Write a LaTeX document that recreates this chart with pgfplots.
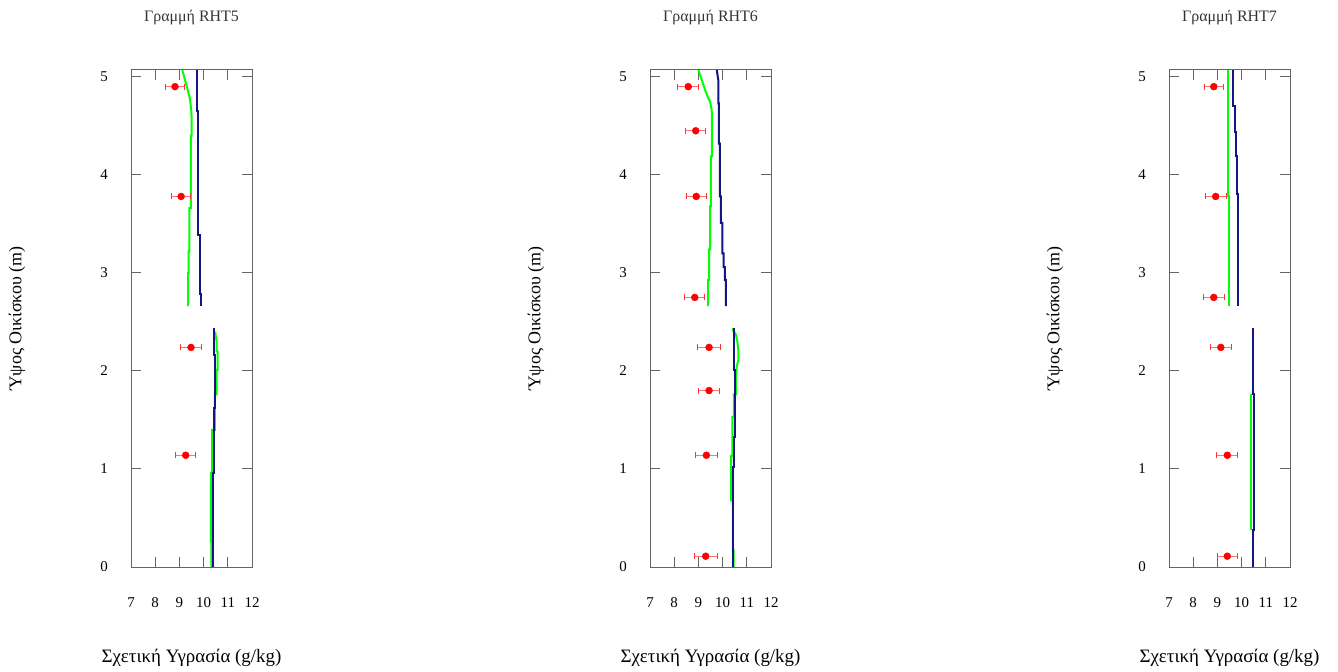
\documentclass[border=0pt]{standalone}
\usepackage{fontspec}
\setmainfont{Liberation Serif}
\usepackage{pgfplots}
\pgfplotsset{compat=1.18}

\definecolor{mblue}{RGB}{20,20,130}
\definecolor{mgreen}{RGB}{0,255,0}
\definecolor{axgray}{RGB}{100,100,100}

\pgfplotsset{
  every axis title shift=0pt,
  panel/.style={
    scale only axis, width=121bp, height=497bp,
    anchor=south west,
    xmin=7, xmax=12, ymin=0, ymax=5.07,
    xtick={7,...,12}, ytick={0,...,5},
    tick align=inside, tick pos=both, major tick length=10bp,
    axis line style={axgray, line width=1bp},
    tick style={axgray, line width=1bp},
    /pgf/number format/assume math mode=true,
    tick label style={font=\fontsize{15}{17}\selectfont},
    xticklabel style={anchor=center, yshift=-36bp},
    yticklabel style={anchor=center, xshift=-27bp},
    xlabel={Σχετική Υγρασία (g/kg)},
    ylabel={Ύψος Οικίσκου (m)},
    xlabel style={at={(axis description cs:0.5,-0.1831)}, anchor=center,
      font=\fontsize{19}{21}\selectfont},
    ylabel style={at={(axis description cs:-0.942,0.5)}, anchor=center,
      font=\fontsize{18}{20}\selectfont},
    title style={at={(axis description cs:0.5,1.1046)}, anchor=center,
      font=\fontsize{16}{18}\selectfont, text=black!80},
    clip=false,
  },
  obs/.style={only marks, mark=*, mark size=3.5bp, red,
    error bars/.cd, x dir=both, x explicit,
    error bar style={red!55, line width=1.3bp},
    error mark options={rotate=90, red!80, mark size=3bp, line width=1bp}},
  modg/.style={mgreen, line width=2bp, no marks},
  modb/.style={mblue, line width=2bp, no marks},
}

\begin{document}
\begin{tikzpicture}
\path[use as bounding box] (0,0) rectangle (1338bp,672bp);

% RHT5
\begin{axis}[panel, at={(131bp,105bp)}, title={Γραμμή RHT5}]
\addplot[modg] coordinates {(9.12,5.07)(9.23,4.97)(9.34,4.87)(9.44,4.77)(9.49,4.66)(9.51,4.56)(9.51,4.40)(9.47,4.40)(9.47,3.66)(9.41,3.66)(9.41,3.22)(9.38,3.22)(9.38,3.0)(9.36,3.0)(9.36,2.66)};
\addplot[modg] coordinates {(10.48,2.40)(10.50,2.36)(10.54,2.30)(10.54,2.20)(10.58,2.20)(10.58,2.01)(10.54,2.01)(10.54,1.76)(10.47,1.76)(10.47,1.40)(10.35,1.40)(10.35,0.96)(10.31,0.96)(10.30,0.65)(10.30,0.26)(10.32,0.26)(10.32,0)};
\addplot[modb] coordinates {(9.74,5.07)(9.74,4.65)(9.78,4.65)(9.78,3.39)(9.84,3.39)(9.84,3.0)(9.86,3.0)(9.86,2.79)(9.9,2.79)(9.9,2.66)};
\addplot[modb] coordinates {(10.44,2.44)(10.44,2.16)(10.48,2.16)(10.48,1.62)(10.43,1.62)(10.43,0.96)(10.40,0.96)(10.40,0)};
\addplot[obs] table[x=x, y=y, x error=e] {
x y e
8.82 4.90 0.41
9.07 3.78 0.38
9.48 2.24 0.42
9.26 1.14 0.41
};
\end{axis}

% RHT6
\begin{axis}[panel, at={(650bp,105bp)}, title={Γραμμή RHT6}]
\addplot[modg] coordinates {(9.00,5.07)(9.14,4.97)(9.27,4.87)(9.38,4.80)(9.48,4.75)(9.55,4.66)(9.56,4.56)(9.56,4.19)(9.52,4.19)(9.52,3.68)(9.48,3.68)(9.48,3.24)(9.44,3.24)(9.44,2.93)(9.40,2.93)(9.40,2.66)};
\addplot[modg] coordinates {(10.42,2.44)(10.42,2.42)(10.55,2.37)(10.61,2.30)(10.65,2.21)(10.65,2.11)(10.58,2.04)(10.55,1.93)(10.55,1.76)(10.47,1.76)(10.47,1.53)(10.40,1.53)(10.40,1.13)(10.35,1.13)(10.35,0.68)(10.42,0.68)(10.42,0.17)(10.46,0.17)(10.46,0)};
\addplot[modb] coordinates {(9.76,5.07)(9.82,4.97)(9.82,4.73)(9.85,4.73)(9.85,4.32)(9.89,4.32)(9.89,3.78)(9.93,3.78)(9.93,3.51)(9.99,3.51)(9.99,3.20)(10.04,3.20)(10.04,3.06)(10.09,3.06)(10.09,2.93)(10.13,2.93)(10.13,2.66)};
\addplot[modb] coordinates {(10.46,2.44)(10.46,2.01)(10.51,2.01)(10.51,1.33)(10.47,1.33)(10.47,1.02)(10.42,1.02)(10.42,0)};
\addplot[obs] table[x=x, y=y, x error=e] {
x y e
8.58 4.90 0.43
8.89 4.45 0.41
8.91 3.78 0.42
8.85 2.75 0.42
9.44 2.24 0.46
9.44 1.80 0.43
9.33 1.14 0.47
9.30 0.11 0.47
};
\end{axis}

% RHT7
\begin{axis}[panel, at={(1169bp,105bp)}, title={Γραμμή RHT7}]
\addplot[modg] coordinates {(9.42,5.07)(9.42,3.78)(9.47,3.78)(9.47,2.66)};
\addplot[modg] coordinates {(10.38,1.76)(10.38,0.38)};
\addplot[modb] coordinates {(9.66,5.07)(9.66,4.70)(9.73,4.70)(9.73,4.44)(9.77,4.44)(9.77,4.19)(9.81,4.19)(9.81,3.81)(9.84,3.81)(9.84,2.66)};
\addplot[modb] coordinates {(10.46,2.44)(10.46,1.76)(10.50,1.76)(10.50,0.38)(10.46,0.38)(10.46,0)};
\addplot[obs] table[x=x, y=y, x error=e] {
x y e
8.85 4.90 0.40
8.93 3.78 0.44
8.85 2.75 0.44
9.14 2.24 0.43
9.41 1.14 0.44
9.41 0.11 0.41
};
\end{axis}
\end{tikzpicture}
\end{document}
